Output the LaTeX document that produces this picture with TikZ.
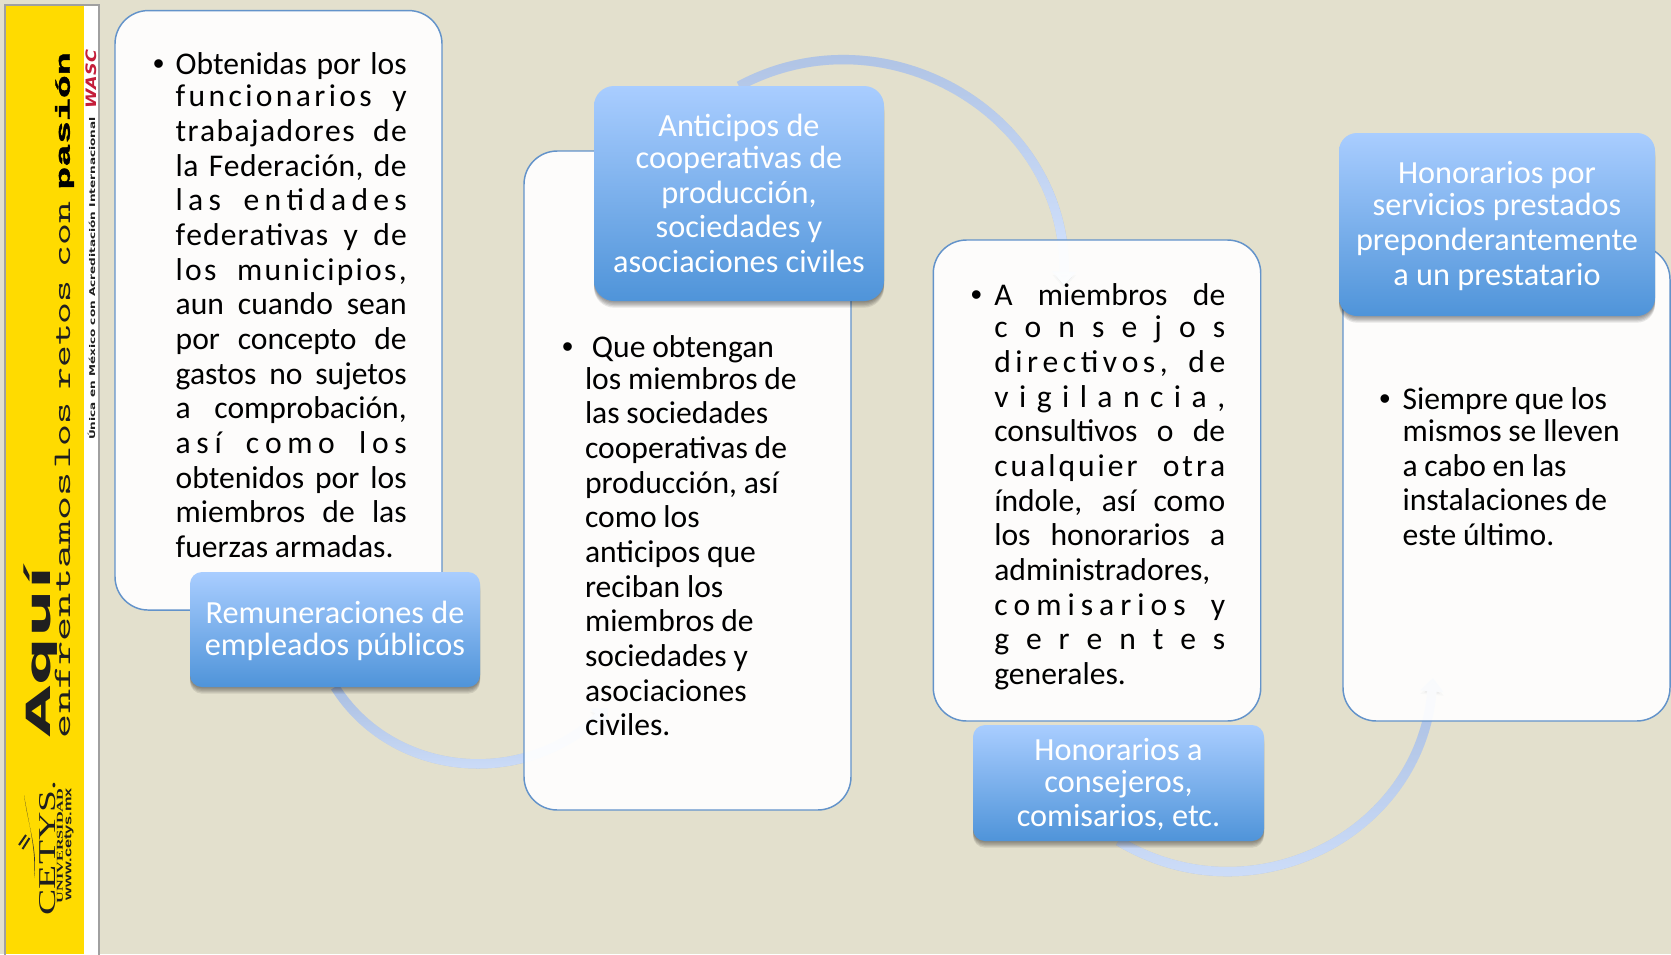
\documentclass[tikz,border=0pt]{standalone}
\usepackage{fontspec}
\usetikzlibrary{shadows,fadings,arrows.meta}
\setmainfont{Carlito}
\newfontfamily\bulfont{Liberation Sans}
\newfontfamily\djvfont{DejaVu Sans}
\newfontfamily\lmono{Latin Modern Mono}
\newfontfamily\libmono{Liberation Mono}[FakeBold=1.5]
\newfontfamily\libsans{Liberation Sans}
\newfontfamily\libserif{Liberation Serif}
\definecolor{bgc}{HTML}{E3E0CD}
\definecolor{yell}{HTML}{FFDB00}
\definecolor{framec}{HTML}{A0A0A0}
\definecolor{edgec}{HTML}{6393CA}
\definecolor{labtop}{HTML}{A9CDFF}
\definecolor{labbot}{HTML}{4F94D9}
\definecolor{ringlow}{HTML}{A8BDE0}
\definecolor{ringhigh}{HTML}{D6E5FF}
\definecolor{wscred}{HTML}{C41E3A}
\newcommand\bodyfont{\fontsize{23.7}{26}\selectfont}
\newcommand\labfont{\fontsize{24.2}{26}\selectfont}
% justified lines
\def\lsendv{\lsendmark}
\def\lsx#1{#1\lsy}
\def\lsy#1{\def\lstmp{#1}\ifx\lstmp\lsendv\else\hskip 0pt plus 1fil\relax #1\expandafter\lsy\fi}
\def\lswords#1 #2\lsstop{\lsx#1\lsendmark\def\lstmpw{#2}\ifx\lstmpw\empty\else\hskip .226em plus \lsr fil\relax\lswords#2\lsstop\fi}
\newcommand\lsl[2]{\leavevmode\hbox to\linewidth{\strut\def\lsr{#1}\lswords#2 \lsstop}}
\newcommand\jl[1]{\leavevmode\hbox to\linewidth{\spaceskip=.226em plus 1fil\relax\strut#1}}
\newcommand\nl[1]{\leavevmode\hbox{\spaceskip=.215em\relax\strut#1}}
\newcommand\bul[1]{\llap{{\bulfont •}\hskip #1}}
\pgfdeclarelayer{bgl}
\pgfdeclarelayer{connl}
\pgfdeclarelayer{boxl}
\pgfsetlayers{bgl,connl,boxl,main}
\tikzset{
  x=0.75pt,y=-0.75pt,
  softs/.style={general shadow={fill=black,opacity=.09,shadow xshift=0pt,shadow yshift=-#1}},
  boxy/.style={draw=edgec,line width=1.1pt,fill=white,fill opacity=.93,draw opacity=1,rounded corners=25pt,inner sep=0pt,outer sep=0pt},
  lab/.style={softs=5pt,softs=4pt,softs=3pt,softs=2pt,softs=1pt,
    shade,top color=labtop,bottom color=labbot,rounded corners=#1,inner sep=0pt,outer sep=0pt,text=white,align=center,
    font=\labfont},
  bodytext/.style={inner sep=0pt,outer sep=0pt,anchor=north west,align=left,font=\bodyfont,text=black},
  conn/.style={draw=ringlow,line width=7pt,
    -{Triangle[width=17pt,length=10pt]},
    preaction={draw=black,draw opacity=.33,transform canvas={yshift=-2.6pt}},
    postaction={draw=ringhigh,path fading=north,fit fading=true}},
  side/.style={rotate=90,inner sep=0pt,outer sep=0pt,text=black!88},
}
\tikzfading[name=north,top color=transparent!0,bottom color=transparent!100]
\begin{document}
\begin{tikzpicture}
\useasboundingbox (0,0) rectangle (1671,954);
\begin{pgfonlayer}{bgl}
\fill[bgc] (0,0) rectangle (1671,954);
% side band
\fill[white] (5,5) rectangle (99,954);
\fill[yell] (5,5) rectangle (84,954);
\draw[framec,line width=1.2pt] (5,970) -- (5,5) -- (99,5) -- (99,970);
\node[side] (aqui) at (41,652) {\resizebox{127.5pt}{20pt}{\djvfont\bfseries Aquí}};
\node[side] (enf) at (62.5,605) {\resizebox{199.5pt}{11.5pt}{\lmono enfrentamos}};
\node[side] (enfb) at (62.5,335) {\resizebox{199.5pt}{11.5pt}{\lmono\spaceskip=.3em\relax los retos con}};
\node[side,text=black] (pas) at (64.5,121) {\resizebox{103pt}{11pt}{\libmono\bfseries pasión}};
\node[side] (unica) at (91.5,278.5) {\resizebox{242pt}{5.5pt}{\djvfont\bfseries Única en México con Acreditación Internacional}};
\node[side,text=wscred] (wsc) at (91.5,79) {\resizebox{43.5pt}{8pt}{\djvfont\bfseries\itshape WASC}};
\node[side] (cetys) at (48,848) {\resizebox{101pt}{12pt}{\libserif CETYS.}};
\node[side] (univ) at (60,846) {\resizebox{86pt}{4.5pt}{\libserif\bfseries UNIVERSIDAD}};
\node[side] (www) at (69,844) {\resizebox{84pt}{5.2pt}{\libsans\bfseries www.cetys.mx}};
\draw[black!85,line width=1.5pt] (19,845) -- (26,835) (22.5,849) -- (29.5,838);
\fill[black!80] (24,795) .. controls (29,830) and (38,850) .. (34,878) .. controls (36,850) and (30,830) .. (24,795);
\end{pgfonlayer}
% labels
\node[minimum width=217.5pt,minimum height=86.25pt,lab=9pt] (l1) at (335,629.5) {\rule{0pt}{19.5pt}Remuneraciones de\\[-2pt]empleados públicos};
\node[minimum width=217.5pt,minimum height=161.25pt,lab=15pt] (l2) at (739,193.5) {Anticipos de\\[-2pt]cooperativas de\\producción,\\sociedades y\\asociaciones civiles};
\node[minimum width=218.25pt,minimum height=87pt,lab=9pt] (l3) at (1118.5,783) {\rule{0pt}{19pt}Honorarios a\\[-2pt]consejeros,\\comisarios, etc.};
\node[minimum width=237pt,minimum height=137.25pt,lab=13.5pt] (l4) at (1497,224.5) {\rule{0pt}{19pt}Honorarios por\\[-2pt]servicios prestados\\preponderantemente\\a un prestatario};
% connectors
\coordinate (e1) at (608,708);
\coordinate (e2) at (1064,285);
\coordinate (e3) at (1433,678);
\begin{pgfonlayer}{connl}
\draw[conn] (l1.south) .. controls (392,777.1) and (521,789.3) .. (e1);
\draw[conn] (l2.north) .. controls (886.3,7) and (1066.9,115.8) .. (e2);
\draw[conn] (l3.south) .. controls (1251.7,921) and (1420.3,834.9) .. (e3);
\end{pgfonlayer}
% boxes
\begin{pgfonlayer}{boxl}
\node[boxy,minimum width=245.25pt,minimum height=449.6pt] (b1) at (278.5,310.3) {};
\node[boxy,minimum width=245.25pt,minimum height=494.25pt] (b2) at (687.5,480.5) {};
\node[boxy,minimum width=245.6pt,minimum height=360.75pt] (b3) at (1097,480.5) {};
\node[boxy,minimum width=245.25pt,minimum height=356.25pt] (b4) at (1506.5,483.5) {};
\end{pgfonlayer}
% body texts
\node[bodytext,text width=173.3pt] (t1) at (175.7,50.5) {%
\jl{\bul{8.6pt}Obtenidas por los}\\[-2pt]
\lsl{4}{funcionarios y}\\
\lsl{8}{trabajadores de}\\
\lsl{8}{la Federación, de}\\
\lsl{3}{las en{ti}dades}\\
\lsl{8}{federa{ti}vas y de}\\
\lsl{6}{los municipios,}\\
\jl{aun cuando sean}\\
\jl{por concepto de}\\
\jl{gastos no sujetos}\\
\jl{a comprobación,}\\
\lsl{3}{así como los}\\
\jl{obtenidos por los}\\
\jl{miembros de las}\\
\nl{fuerzas armadas.}};
\node[bodytext,text width=200pt] (t2) at (585,333) {%
\nl{\bul{8.8pt}\hskip 5.2pt Que obtengan}\\[-2pt]
\nl{los miembros de}\\
\nl{las sociedades}\\
\nl{cooperativas de}\\
\nl{producción, así}\\
\nl{como los}\\
\nl{anticipos que}\\
\nl{reciban los}\\
\nl{miembros de}\\
\nl{sociedades y}\\
\nl{asociaciones}\\
\nl{civiles.}};
\node[bodytext,text width=173.2pt] (t3) at (994.3,281.4) {%
\jl{\bul{9.2pt}A miembros de}\\[-2pt]
\lsl{3}{consejos}\\
\lsl{3}{direc{ti}vos, de}\\
\lsl{3}{vigilancia,}\\
\jl{consultivos o de}\\
\lsl{6}{cualquier otra}\\
\jl{índole, así como}\\
\jl{los honorarios a}\\
\jl{administradores,}\\
\lsl{3}{comisarios y}\\
\lsl{3}{gerentes}\\
\nl{generales.}};
\node[bodytext,text width=200pt] (t4) at (1402.5,385.3) {%
\nl{\bul{9pt}Siempre que los}\\[-2pt]
\nl{mismos se lleven}\\
\nl{a cabo en las}\\
\nl{instalaciones de}\\
\nl{este último.}};
\end{tikzpicture}
\end{document}
